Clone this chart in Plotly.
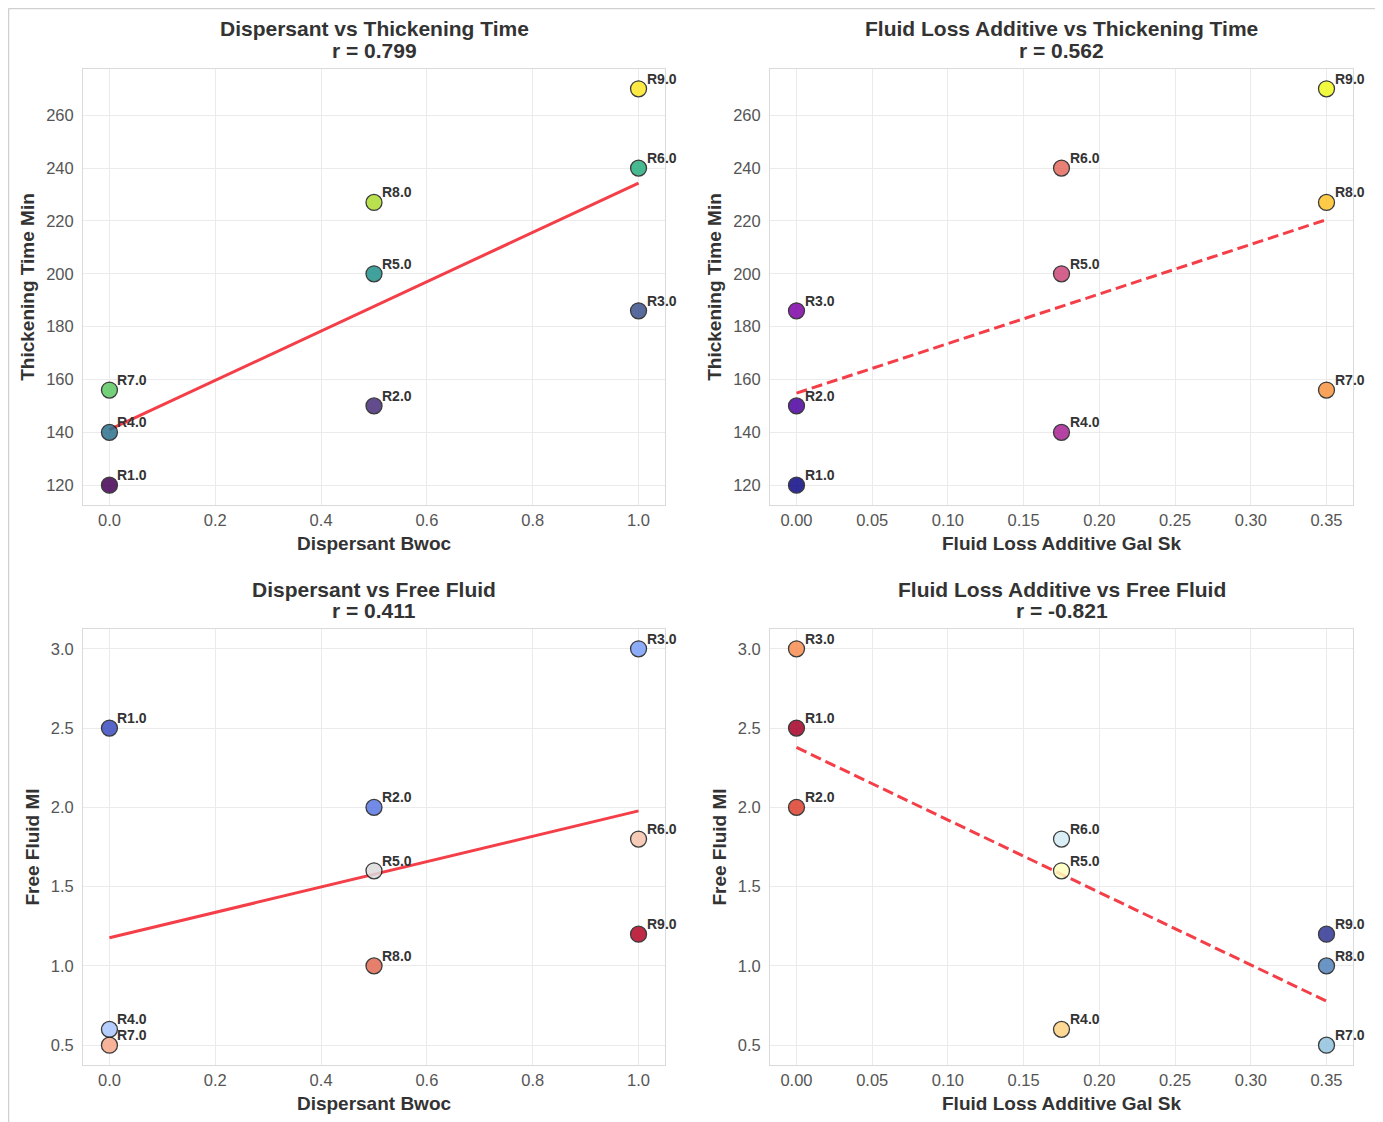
import numpy as np
import plotly.graph_objects as go

# ---------------- data ----------------
runs = ["R1.0", "R2.0", "R3.0", "R4.0", "R5.0", "R6.0", "R7.0", "R8.0", "R9.0"]
dispersant_bwoc = [0.0, 0.5, 1.0, 0.0, 0.5, 1.0, 0.0, 0.5, 1.0]
fluid_loss_gal_sk = [0.0, 0.0, 0.0, 0.175, 0.175, 0.175, 0.35, 0.35, 0.35]
thickening_time_min = [120, 150, 186, 140, 200, 240, 156, 227, 270]
free_fluid_ml = [2.5, 2.0, 3.0, 0.6, 1.6, 1.8, 0.5, 1.0, 1.2]

# ---------------- styles ----------------
viridis9 = ["#440154", "#472d7b", "#3b528b", "#2c728e", "#21918c", "#28ae80", "#5ec962", "#addc30", "#fde725"]
plasma9 = ["#0d0887", "#4c02a1", "#7e03a8", "#a92395", "#cc4778", "#e56b5d", "#f89540", "#fdc328", "#f0f921"]
coolwarm9 = ["#3b4cc0", "#5977e3", "#7b9ff9", "#a9c6fd", "#dddcdc", "#f5c4ac", "#f7a889", "#e26952", "#b40426"]
rdylbu9 = ["#a50026", "#de402e", "#f88e52", "#fed384", "#ffffbf", "#d3ecf4", "#90c3dd", "#5183bb", "#313695"]

OFF = 8  # page body margin
W, H = 1383 - OFF, 1122 - OFF
FONT = "Liberation Sans, Arial, sans-serif"

# axes boxes in page pixels (left, right, top, bottom)
boxes = [
    (83, 665, 69, 505),
    (770, 1353, 69, 505),
    (83, 665, 629, 1065),
    (770, 1353, 629, 1065),
]


def px(xp):
    return (xp - OFF) / W


def py(yp):
    return 1 - (yp - OFF) / H


panels = [
    dict(x=dispersant_bwoc, y=thickening_time_min, colors=viridis9, dash="solid",
         title="Dispersant vs Thickening Time", xlabel="Dispersant Bwoc", ylabel="Thickening Time Min",
         xticks=[0, 0.2, 0.4, 0.6, 0.8, 1.0], xfmt=".1f", yticks=[120, 140, 160, 180, 200, 220, 240, 260], yfmt="d"),
    dict(x=fluid_loss_gal_sk, y=thickening_time_min, colors=plasma9, dash="11px,5px",
         title="Fluid Loss Additive vs Thickening Time", xlabel="Fluid Loss Additive Gal Sk", ylabel="Thickening Time Min",
         xticks=[0, 0.05, 0.1, 0.15, 0.2, 0.25, 0.3, 0.35], xfmt=".2f", yticks=[120, 140, 160, 180, 200, 220, 240, 260], yfmt="d"),
    dict(x=dispersant_bwoc, y=free_fluid_ml, colors=coolwarm9, dash="solid",
         title="Dispersant vs Free Fluid", xlabel="Dispersant Bwoc", ylabel="Free Fluid Ml",
         xticks=[0, 0.2, 0.4, 0.6, 0.8, 1.0], xfmt=".1f", yticks=[0.5, 1.0, 1.5, 2.0, 2.5, 3.0], yfmt=".1f"),
    dict(x=fluid_loss_gal_sk, y=free_fluid_ml, colors=rdylbu9, dash="11px,5px",
         title="Fluid Loss Additive vs Free Fluid", xlabel="Fluid Loss Additive Gal Sk", ylabel="Free Fluid Ml",
         xticks=[0, 0.05, 0.1, 0.15, 0.2, 0.25, 0.3, 0.35], xfmt=".2f", yticks=[0.5, 1.0, 1.5, 2.0, 2.5, 3.0], yfmt=".1f"),
]

fig = go.Figure()
annotations = []
shapes = []

for i, p in enumerate(panels):
    n = i + 1
    xa = "x" if n == 1 else f"x{n}"
    ya = "y" if n == 1 else f"y{n}"
    xs = np.array(p["x"], dtype=float)
    ys = np.array(p["y"], dtype=float)
    r = np.corrcoef(xs, ys)[0, 1]
    slope, intercept = np.polyfit(xs, ys, 1)
    lx = np.array([xs.min(), xs.max()])
    ly = slope * lx + intercept

    fig.add_trace(go.Scatter(
        x=lx, y=ly, mode="lines", xaxis=xa, yaxis=ya, showlegend=False,
        line=dict(color="rgba(242,20,32,0.82)", width=3, dash=p["dash"]), hoverinfo="skip"))
    fig.add_trace(go.Scatter(
        x=xs, y=ys, mode="markers", xaxis=xa, yaxis=ya, showlegend=False,
        marker=dict(size=16, color=p["colors"], opacity=0.85,
                    line=dict(color="#1a1a1a", width=1.3)),
        text=runs, hovertemplate="%{text}: (%{x}, %{y})<extra></extra>"))

    for rx, ry, lab in zip(xs, ys, runs):
        annotations.append(dict(
            x=rx, y=ry, xref=xa, yref=ya, text=f"<b>{lab}</b>", showarrow=False,
            xanchor="left", yanchor="middle", xshift=6, yshift=10,
            font=dict(family=FONT, size=14, color="#333333")))

    l, rr, t, b = boxes[i]
    xdom = [px(l), px(rr)]
    ydom = [py(b), py(t)]
    xpad = (xs.max() - xs.min()) * 0.05
    ypad = (ys.max() - ys.min()) * 0.05

    axis_common = dict(showgrid=True, gridcolor="#ebebeb", gridwidth=1, zeroline=False,
                       showline=True, linecolor="#dadada", linewidth=1, mirror=True,
                       tickfont=dict(family=FONT, size=16.5, color="#555555"),
                       fixedrange=True)
    fig.layout[("xaxis" if n == 1 else f"xaxis{n}")] = dict(
        domain=xdom, anchor=ya, range=[xs.min() - xpad, xs.max() + xpad], ticks="",
        tickmode="array", tickvals=p["xticks"], ticktext=[format(v, p["xfmt"]) for v in p["xticks"]],
        title=dict(text=f"<b>{p['xlabel']}</b>", font=dict(family=FONT, size=19, color="#333333"), standoff=8),
        **axis_common)
    fig.layout[("yaxis" if n == 1 else f"yaxis{n}")] = dict(
        domain=ydom, anchor=xa, range=[ys.min() - ypad, ys.max() + ypad],
        ticks="outside", ticklen=5, tickcolor="rgba(0,0,0,0)",
        tickmode="array", tickvals=p["yticks"], ticktext=[format(v, p["yfmt"]) for v in p["yticks"]],
        title=dict(text=f"<b>{p['ylabel']}</b>", font=dict(family=FONT, size=19, color="#333333"), standoff=6),
        **axis_common)

    cx = px((l + rr) / 2)
    annotations.append(dict(
        x=cx, y=py(29) if i < 2 else py(589), xref="paper", yref="paper",
        text=f"<b>{p['title']}</b>", showarrow=False, xanchor="center", yanchor="middle",
        font=dict(family=FONT, size=21, color="#333333")))
    annotations.append(dict(
        x=cx, y=py(50) if i < 2 else py(610), xref="paper", yref="paper",
        text=f"<b>r = {r:.3f}</b>", showarrow=False, xanchor="center", yanchor="middle",
        font=dict(family=FONT, size=21, color="#333333")))

# light outer frame of the figure
fx0, fx1, fy0 = px(8.5), px(1376), py(8.5)
shapes.append(dict(type="line", xref="paper", yref="paper", x0=fx0, x1=fx0, y0=0, y1=fy0,
                   line=dict(color="#d0d0d0", width=1.5)))
shapes.append(dict(type="line", xref="paper", yref="paper", x0=fx0, x1=fx1, y0=fy0, y1=fy0,
                   line=dict(color="#d0d0d0", width=1.5)))
shapes.append(dict(type="line", xref="paper", yref="paper", x0=fx1, x1=fx1, y0=0, y1=fy0,
                   line=dict(color="#d0d0d0", width=1.5)))

fig.update_layout(
    width=W, height=H, margin=dict(l=0, r=0, t=0, b=0),
    paper_bgcolor="white", plot_bgcolor="white",
    annotations=annotations, shapes=shapes, showlegend=False,
    font=dict(family=FONT),
)

fig.write_html("out.html")
